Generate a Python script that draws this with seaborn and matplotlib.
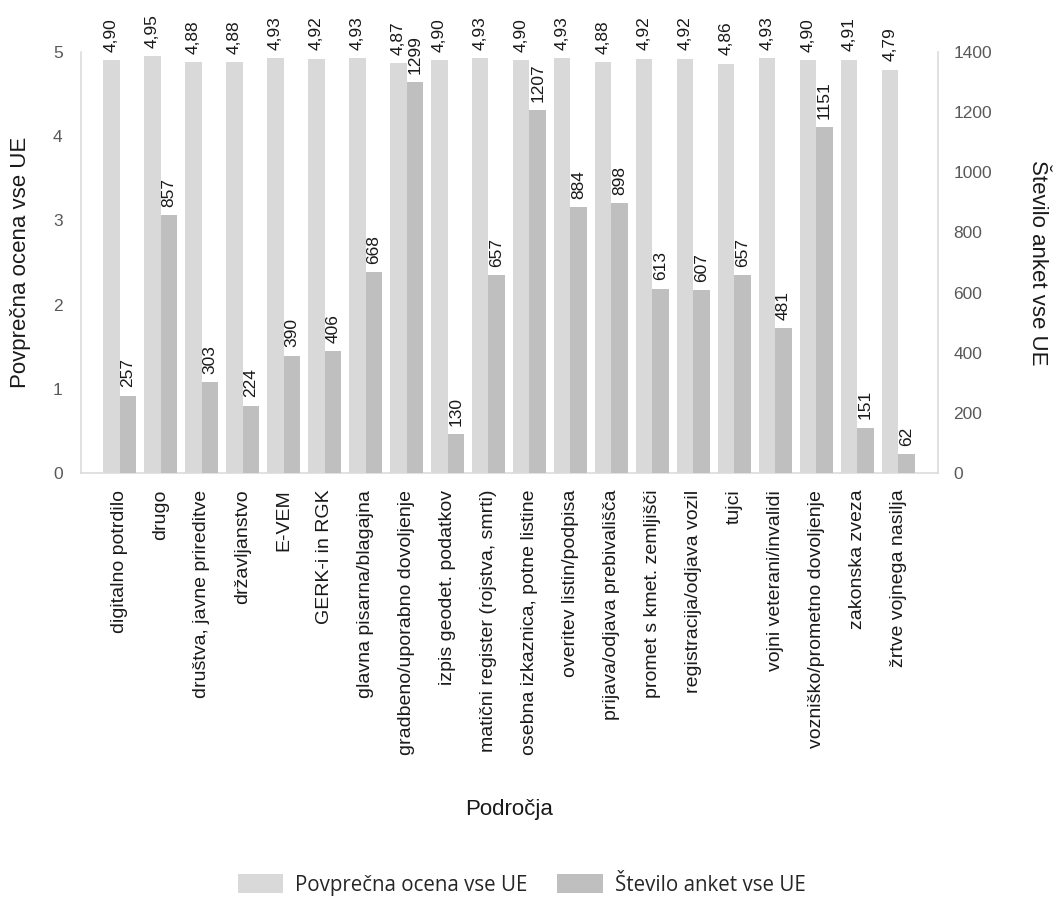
import matplotlib
matplotlib.use("Agg")
import matplotlib.pyplot as plt
from matplotlib.patches import Patch
import seaborn as sns
import pandas as pd

categories = [
    "digitalno potrdilo", "drugo", "društva, javne prireditve", "državljanstvo",
    "E-VEM", "GERK-i in RGK", "glavna pisarna/blagajna",
    "gradbeno/uporabno dovoljenje", "izpis geodet. podatkov",
    "matični register (rojstva, smrti)", "osebna izkaznica, potne listine",
    "overitev listin/podpisa", "prijava/odjava prebivališča",
    "promet s kmet. zemljišči", "registracija/odjava vozil", "tujci",
    "vojni veterani/invalidi", "vozniško/prometno dovoljenje",
    "zakonska zveza", "žrtve vojnega nasilja",
]
avg_scores = [4.90, 4.95, 4.88, 4.88, 4.93, 4.92, 4.93, 4.87, 4.90, 4.93,
              4.90, 4.93, 4.88, 4.92, 4.92, 4.86, 4.93, 4.90, 4.91, 4.79]
survey_counts = [257, 857, 303, 224, 390, 406, 668, 1299, 130, 657,
                 1207, 884, 898, 613, 607, 657, 481, 1151, 151, 62]
series_names = ["Povprečna ocena vse UE", "Število anket vse UE"]
left_ticks = [0, 1, 2, 3, 4, 5]
right_ticks = [0, 200, 400, 600, 800, 1000, 1200, 1400]

LIGHT = "#d9d9d9"
DARK = "#bfbfbf"
AXIS = "#d9d9d9"
TICKC = "#595959"

sns.set_style("white")
plt.rcParams["font.family"] = ["Liberation Sans", "DejaVu Sans"]

df_avg = pd.DataFrame({"cat": categories, "val": avg_scores, "series": series_names[0]})
df_cnt = pd.DataFrame({"cat": categories, "val": survey_counts, "series": series_names[1]})
palette = {series_names[0]: LIGHT, series_names[1]: DARK}

fig = plt.figure(figsize=(10.54, 8.97), dpi=100)
ax1 = fig.add_axes([0.0766, 0.4727, 0.8134, 0.4693])
ax2 = ax1.twinx()

common = dict(x="cat", y="val", hue="series", hue_order=series_names,
              order=categories, palette=palette, saturation=1, errorbar=None,
              width=0.8, dodge=True, linewidth=0, legend=False)
sns.barplot(data=df_avg, ax=ax1, **common)
sns.barplot(data=df_cnt, ax=ax2, **common)

ax1.set_ylim(0, 5)
ax2.set_ylim(0, 1400)
ax1.set_xlim(-0.95, 19.97)
ax1.set_yticks(left_ticks)
ax2.set_yticks(right_ticks)

# value labels
for c in ax1.containers:
    if len(c) == len(categories):
        ax1.bar_label(c, labels=[f"{v:.2f}".replace(".", ",") for v in avg_scores],
                      rotation=90, padding=6, fontsize=12.5, color="#1a1a1a")
for c in ax2.containers:
    if len(c) == len(categories):
        ax2.bar_label(c, labels=[str(v) for v in survey_counts],
                      rotation=90, padding=6, fontsize=12.5, color="#1a1a1a")

# spines
for s in ["top", "right"]:
    ax1.spines[s].set_visible(False)
for s in ["left", "bottom"]:
    ax1.spines[s].set_color(AXIS)
    ax1.spines[s].set_linewidth(1.1)
for s in ["top", "left", "bottom"]:
    ax2.spines[s].set_visible(False)
ax2.spines["right"].set_color(AXIS)
ax2.spines["right"].set_linewidth(1.1)

ax1.tick_params(axis="y", length=0, pad=13, labelsize=12.5, labelcolor=TICKC)
ax2.tick_params(axis="y", length=0, pad=11, labelsize=12.5, labelcolor=TICKC)
ax1.tick_params(axis="x", length=0, pad=12, labelsize=14, labelcolor="#1a1a1a")
ax1.set_xticks(range(len(categories)))
ax1.set_xticklabels(categories, rotation=90, ha="center", va="top")

ax1.set_ylabel(series_names[0], fontsize=16, va="center", color="#1a1a1a")
ax1.yaxis.set_label_coords(-0.0702, 0.5)
ax2.set_ylabel(series_names[1], fontsize=16, rotation=-90, va="center", color="#1a1a1a")
ax2.yaxis.set_label_coords(1.1155, 0.5)
ax1.set_xlabel("Področja", fontsize=16, va="center", color="#1a1a1a")
ax1.xaxis.set_label_coords(0.5, -0.80)

handles = [Patch(facecolor=LIGHT, edgecolor="none"), Patch(facecolor=DARK, edgecolor="none")]
fig.legend(handles, series_names, loc="center", bbox_to_anchor=(0.495, 0.0134),
           ncol=2, frameon=False, handlelength=2.2, handleheight=1.0,
           handletextpad=0.6, columnspacing=1.45,
           prop={"family": ["Open Sans", "DejaVu Sans"], "size": 14.8})

fig.savefig("out.png", dpi=100)
